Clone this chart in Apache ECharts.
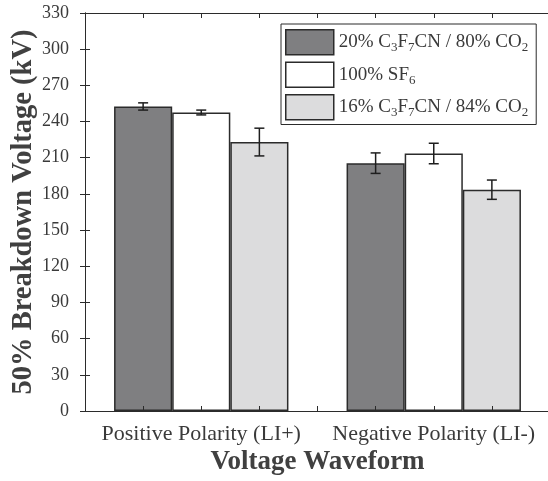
<!DOCTYPE html>
<html>
<head>
<meta charset="utf-8">
<script src="https://cdn.jsdelivr.net/npm/echarts@6/dist/echarts.min.js"></script>
<style>html,body{margin:0;padding:0;background:#fff}#c{width:548px;height:481px}</style>
</head>
<body>
<div id="c"></div>
<script>
var categories = ['Positive Polarity (LI+)', 'Negative Polarity (LI-)'];
var seriesNames = ['20% C3F7CN / 80% CO2', '100% SF6', '16% C3F7CN / 84% CO2'];
var mix20 = [252.5, 205.5];
var sf6 = [247.5, 213.5];
var mix16 = [223, 183.5];
var err20 = [3, 8.5];
var errSF6 = [2, 8.5];
var err16 = [11.5, 8];
var yTicks = [0, 330, 30];

var FONT = 'Liberation Serif';
var TXT = '#3a3a3a';
var EDGE = '#2b2b2b';
var colors = ['#7f7f81', '#ffffff', '#dcdcdd'];
var values = [mix20, sf6, mix16];
var errs = [err20, errSF6, err16];

var chart = echarts.init(document.getElementById('c'), null, {renderer: 'canvas'});

var series = [];
values.forEach(function (vals, k) {
  series.push({
    name: seriesNames[k], type: 'bar', xAxisIndex: 0, yAxisIndex: 0,
    data: vals, barWidth: '25%', barGap: '0%',
    itemStyle: {color: colors[k], borderColor: EDGE, borderWidth: 1.5},
    emphasis: {disabled: true}, z: 2
  });
});
values.forEach(function (vals, k) {
  series.push({
    type: 'custom', xAxisIndex: 0, yAxisIndex: 0, z: 5,
    data: vals.map(function (v, i) { return [i, v - errs[k][i], v + errs[k][i]]; }),
    encode: {x: 0, y: [1, 2]},
    renderItem: function (params, api) {
      var band = api.size([1, 0])[0];
      var off = (k - 1) * band * 0.25;
      var lo = api.coord([api.value(0), api.value(1)]);
      var hi = api.coord([api.value(0), api.value(2)]);
      var x = lo[0] + off;
      var cap = 5;
      var st = {stroke: '#1e1e1e', lineWidth: 1.5};
      return {type: 'group', children: [
        {type: 'line', shape: {x1: x, y1: lo[1], x2: x, y2: hi[1]}, style: st},
        {type: 'line', shape: {x1: x - cap, y1: lo[1], x2: x + cap, y2: lo[1]}, style: st},
        {type: 'line', shape: {x1: x - cap, y1: hi[1], x2: x + cap, y2: hi[1]}, style: st}
      ]};
    }
  });
});

var tickAxis = function (pos) {
  return {
    type: 'value', position: pos, min: 0, max: 8, interval: 1, z: 10,
    axisLine: {show: pos === 'top', lineStyle: {color: EDGE, width: 1}},
    axisTick: {show: true, inside: true, length: 5, lineStyle: {color: EDGE}},
    axisLabel: {show: false}, splitLine: {show: false}
  };
};

chart.setOption({
  animation: false,
  backgroundColor: '#ffffff',
  grid: {left: 85, right: -2, top: 13, bottom: 70, containLabel: false, outerBoundsMode: 'none'},
  legend: {
    orient: 'vertical', left: 281, top: 24,
    data: seriesNames, icon: 'rect', itemWidth: 48, itemHeight: 25, itemGap: 6,
    padding: [5, 8, 4, 4], borderColor: EDGE, borderWidth: 1, backgroundColor: '#fff',
    itemStyle: {borderColor: EDGE, borderWidth: 1.5},
    textStyle: {
      fontFamily: FONT, fontSize: 19, color: TXT,
      rich: {s: {fontFamily: FONT, fontSize: 13, color: TXT, padding: [11, 0, 0, 0]}}
    },
    formatter: function (name) { return name.replace(/([A-Z])(\d)/g, '$1{s|$2}'); },
    selectedMode: false, z: 20
  },
  xAxis: [
    {
      type: 'category', data: categories, position: 'bottom',
      axisLine: {show: true, lineStyle: {color: EDGE, width: 1}},
      axisTick: {show: false},
      axisLabel: {fontFamily: FONT, fontSize: 22, color: TXT, margin: 12, interval: 0, hideOverlap: false},
      name: 'Voltage Waveform', nameLocation: 'middle', nameGap: 38, nameMoveOverlap: false,
      nameTextStyle: {fontFamily: FONT, fontSize: 27, fontWeight: 'bold', color: '#404040'}
    },
    tickAxis('bottom'),
    tickAxis('top')
  ],
  yAxis: [
    {
      type: 'value', min: yTicks[0], max: yTicks[1], interval: yTicks[2], position: 'left',
      axisLine: {show: true, lineStyle: {color: EDGE, width: 1}},
      axisTick: {show: true, inside: true, length: 5, lineStyle: {color: EDGE}},
      axisLabel: {fontFamily: FONT, fontSize: 18, color: TXT, margin: 16},
      splitLine: {show: false},
      name: '50% Breakdown Voltage (kV)', nameLocation: 'middle', nameGap: 47, nameMoveOverlap: false,
      nameTextStyle: {fontFamily: FONT, fontSize: 28.5, fontWeight: 'bold', color: '#404040'}
    },
    {
      type: 'value', min: yTicks[0], max: yTicks[1], interval: yTicks[2], position: 'right',
      axisLine: {show: true, lineStyle: {color: EDGE, width: 1}},
      axisTick: {show: true, inside: true, length: 5, lineStyle: {color: EDGE}},
      axisLabel: {show: false}, splitLine: {show: false}
    }
  ],
  series: series
});
</script>
</body>
</html>
